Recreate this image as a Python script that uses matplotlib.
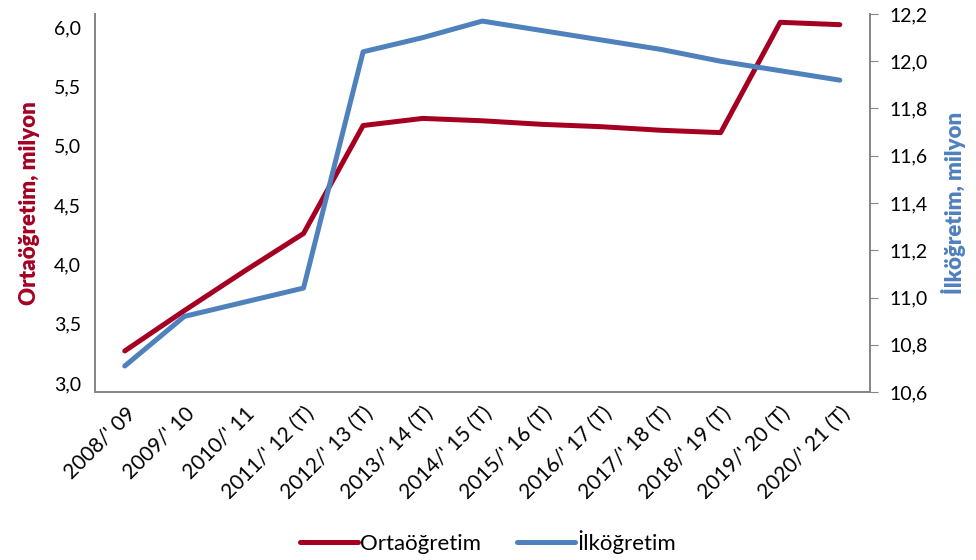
import matplotlib.pyplot as plt
from matplotlib.ticker import FuncFormatter

plt.rcParams['font.family'] = ['Lato', 'DejaVu Sans']

# school years (T = estimate)
years = ["2008/' 09", "2009/' 10", "2010/' 11", "2011/' 12 (T)", "2012/' 13 (T)",
         "2013/' 14 (T)", "2014/' 15 (T)", "2015/' 16 (T)", "2016/' 17 (T)",
         "2017/' 18 (T)", "2018/' 19 (T)", "2019/' 20 (T)", "2020/' 21 (T)"]
# millions of students
ortaogretim = [3.27, 3.61, 3.94, 4.26, 5.17, 5.23, 5.21, 5.18, 5.16, 5.13, 5.11, 6.04, 6.02]
ilkogretim = [10.71, 10.92, 10.98, 11.04, 12.04, 12.10, 12.17, 12.13, 12.09, 12.05, 12.00, 11.96, 11.92]

red = '#A50021'
blue = '#4F81BD'
grey = '#868686'

comma = FuncFormatter(lambda v, p: f"{v:.1f}".replace('.', ','))

fig = plt.figure(figsize=(9.76, 5.6), dpi=100)
ax = fig.add_axes([0.0973, 0.30, 0.7937, 0.675])
ax2 = ax.twinx()

x = list(range(len(years)))
l1, = ax.plot(x, ortaogretim, color=red, lw=3.6, solid_capstyle='round', label='Ortaöğretim')
l2, = ax2.plot(x, ilkogretim, color=blue, lw=3.6, solid_capstyle='round', label='İlköğretim')

ax.set_xlim(-0.5, 12.5)
ax.set_ylim(2.924, 6.11)
ax.set_yticks([3.0, 3.5, 4.0, 4.5, 5.0, 5.5, 6.0])
ax.yaxis.set_major_formatter(comma)
ax2.set_ylim(10.6, 12.2)
ax2.set_yticks([10.6, 10.8, 11.0, 11.2, 11.4, 11.6, 11.8, 12.0, 12.2])
ax2.yaxis.set_major_formatter(comma)

ax.set_xticks(x)
ax.set_xticklabels(years, rotation=45, ha='right', rotation_mode='anchor', fontsize=15)

for a in (ax, ax2):
    a.spines['top'].set_visible(False)
    for s in ('left', 'right', 'bottom'):
        a.spines[s].set_color(grey)
        a.spines[s].set_linewidth(1.3)

ax.tick_params(axis='y', length=0, labelsize=14, pad=10)
ax.tick_params(axis='x', length=0, pad=8)
ax2.tick_params(axis='y', length=6, color=grey, labelsize=14, pad=8)

ax.set_ylabel('Ortaöğretim, milyon', color=red, fontsize=16, fontweight='heavy', labelpad=10)
ax2.set_ylabel('İlköğretim, milyon', color=blue, fontsize=16, fontweight='heavy', labelpad=10)

fig.legend(handles=[l1, l2], loc='lower center', bbox_to_anchor=(0.5, -0.025), ncol=2,
           frameon=False, fontsize=16, handlelength=2.6, handletextpad=0.1, columnspacing=1.6)

fig.savefig('out.png', dpi=100)
